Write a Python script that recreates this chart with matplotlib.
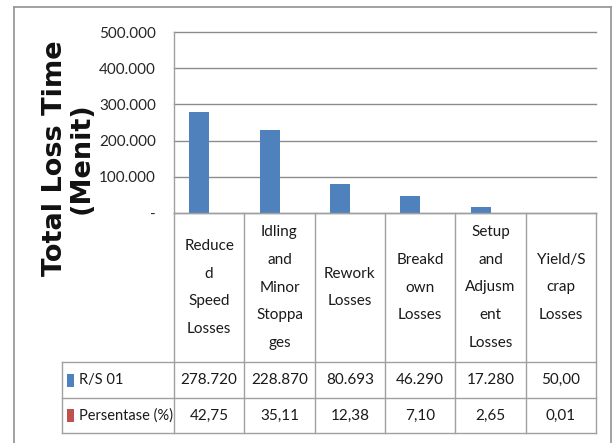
import matplotlib
matplotlib.use('Agg')
import matplotlib.pyplot as plt
import matplotlib.transforms as mtransforms
from matplotlib.patches import Rectangle
from matplotlib.lines import Line2D
import numpy as np

# ---- data ----
categories = ["Reduce\nd\nSpeed\nLosses",
              "Idling\nand\nMinor\nStoppa\nges",
              "Rework\nLosses",
              "Breakd\nown\nLosses",
              "Setup\nand\nAdjusm\nent\nLosses",
              "Yield/S\ncrap\nLosses"]
series_names = ["R/S 01", "Persentase (%)"]
rs01 = [278720, 228870, 80693, 46290, 17280, 50]
persentase = [42.75, 35.11, 12.38, 7.10, 2.65, 0.01]
rs01_labels = ["278.720", "228.870", "80.693", "46.290", "17.280", "50,00"]
pct_labels = ["42,75", "35,11", "12,38", "7,10", "2,65", "0,01"]
yticks = [0, 100000, 200000, 300000, 400000, 500000]
ytick_labels = ["-", "100.000", "200.000", "300.000", "400.000", "500.000"]
y_title = "Total Loss Time\n(Menit)"

# ---- style ----
BLUE = '#4f81bd'
RED = '#c0504d'
GRID = '#8c8c8c'
LINE = '#a0a0a0'
TXT = '#1a1a1a'
NARROW = ['Lato', 'DejaVu Sans']
FS = 11

W, H = 614, 443
fig = plt.figure(figsize=(W / 100, H / 100), dpi=100)
fig.patch.set_facecolor('white')


def fx(px):
    return px / W


def fy(py):
    return 1 - py / H


# plot area
L, R, T, B = 174, 596, 32, 213
ax = fig.add_axes([fx(L), fy(B), fx(R) - fx(L), fy(T) - fy(B)])
x = np.arange(len(categories))
bw = 20 / ((R - L) / len(categories))
ax.bar(x - bw / 2, rs01, bw, color=BLUE, zorder=3)
ax.bar(x + bw / 2, persentase, bw, color=RED, zorder=3)
ax.set_xlim(-0.5, len(categories) - 0.5)
ax.set_ylim(0, 500000)
ax.set_yticks(yticks)
ax.set_yticklabels(ytick_labels, family=NARROW, fontsize=FS, color='#262626')
ax.set_xticks([])
for s in ['top', 'right', 'bottom']:
    ax.spines[s].set_visible(False)
ax.spines['left'].set_color(LINE)
ax.spines['left'].set_linewidth(1.0)
ax.yaxis.grid(True, color=GRID, lw=1.0, zorder=0)
ax.set_axisbelow(True)
ax.tick_params(axis='y', length=0, pad=13)
for gl in ax.get_ygridlines():
    gl.set_clip_on(False)

# ---- data table ----
trans = mtransforms.blended_transform_factory(ax.transData, fig.transFigure)
TL = 62            # table left (px)
HT, R1, R2, TB = 213, 362, 398, 433   # header top, row1 top, row2 top, bottom

n = len(categories)
for k in range(n + 1):
    xx = k - 0.5
    fig.add_artist(Line2D([xx, xx], [fy(HT), fy(TB)], transform=trans,
                          color=LINE, lw=1.0))
fig.add_artist(Line2D([-0.5, n - 0.5], [fy(HT), fy(HT)], transform=trans,
                      color=LINE, lw=1.0))
for yy in (R1, R2, TB):
    fig.add_artist(Line2D([fx(TL), fx(R)], [fy(yy), fy(yy)],
                          transform=fig.transFigure, color=LINE, lw=1.0))
fig.add_artist(Line2D([fx(TL), fx(TL)], [fy(R1), fy(TB)],
                      transform=fig.transFigure, color=LINE, lw=1.0))

# header texts
for i, c in enumerate(categories):
    fig.text(i, fy((HT + R1) / 2), c, transform=trans, ha='center',
             va='center', family=NARROW, fontsize=FS, color=TXT,
             linespacing=2.27, multialignment='center')
# values
for i in range(n):
    fig.text(i, fy((R1 + R2) / 2), rs01_labels[i], transform=trans,
             ha='center', va='center', family=NARROW, fontsize=FS,
             color=TXT)
    fig.text(i, fy((R2 + TB) / 2), pct_labels[i], transform=trans,
             ha='center', va='center', family=NARROW, fontsize=FS,
             color=TXT)

# row labels with legend keys
for (top, bot), name, col in zip(((R1, R2), (R2, TB)), series_names, (BLUE, RED)):
    mid = (top + bot) / 2
    fig.add_artist(Rectangle((fx(67), fy(mid + 6.5)), fx(7), 13 / H,
                             transform=fig.transFigure, color=col, lw=0))
    fig.text(fx(79), fy(mid), name, ha='left', va='center', family=NARROW,
             fontsize=FS - 0.5, color=TXT)

# axis title
fig.text(fx(68.5), fy(158), y_title, rotation=90, ha='center', va='center',
         fontweight='bold', fontsize=19.5, color='#111111', linespacing=1.02,
         multialignment='center', family='DejaVu Sans')

# outer chart border
for xs, ys in (([14, 14], [7, 460]), ([14, 611], [7, 7]), ([611, 611], [7, 460])):
    fig.add_artist(Line2D([fx(v) for v in xs], [fy(v) for v in ys],
                          transform=fig.transFigure, color='#9a9a9a', lw=1.3))

fig.savefig('out.png', dpi=100)
